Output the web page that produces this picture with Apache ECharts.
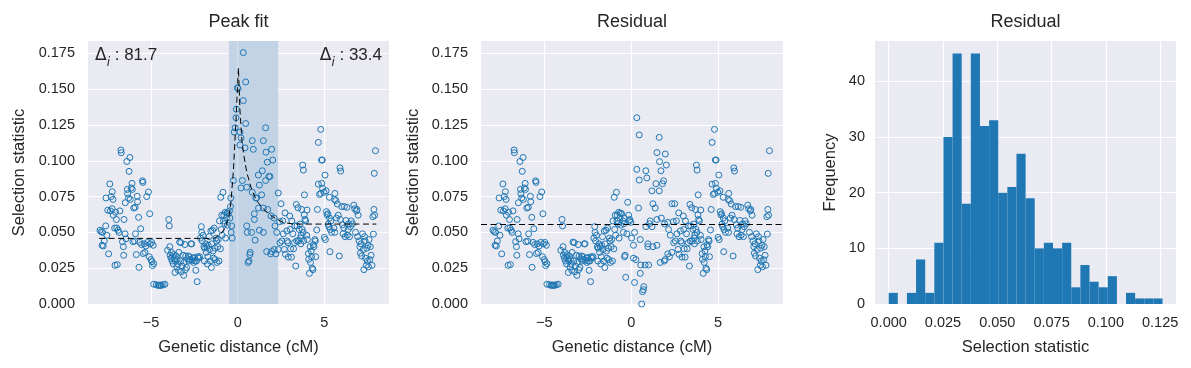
<!DOCTYPE html>
<html>
<head>
<meta charset="utf-8">
<script src="https://cdn.jsdelivr.net/npm/echarts@6/dist/echarts.min.js"></script>
<style>
html,body{margin:0;padding:0;background:#ffffff;}
#chart{width:1191px;height:368px;}
</style>
</head>
<body>
<div id="chart"></div>
<script>
// ---------------- data ----------------
// points left of the fitted peak (identical in both panels)
const leftX = [-7.95,-7.88,-7.80,-7.83,-7.76,-7.70,-7.62,-7.60,-7.55,-7.50,-7.45,-7.38,-7.35,-7.30,-7.25,-7.24,-7.20,-7.18,-7.10,-7.08,
 -7.05,-7.00,-6.98,-6.95,-6.90,-6.85,-6.80,-6.74,-6.72,-6.65,-6.60,-6.58,-6.56,-6.50,-6.49,-6.45,-6.40,-6.37,-6.35,-6.30,
 -6.27,-6.22,-6.20,-6.15,-6.10,-6.08,-6.05,-6.00,-5.95,-5.92,-5.90,-5.85,-5.80,-5.78,-5.72,-5.70,-5.65,-5.60,-5.55,-5.50,
 -5.47,-5.45,-5.40,-5.35,-5.30,-5.25,-5.20,-5.15,-5.10,-5.08,-5.05,-5.00,-4.97,-4.95,-4.92,-4.88,-4.85,-4.85,-4.70,-4.60,
 -4.55,-4.50,-4.45,-4.40,-4.30,-4.20,-4.05,-3.98,-3.95,-3.92,-3.90,-3.85,-3.82,-3.78,-3.75,-3.72,-3.70,-3.65,-3.62,-3.60,
 -3.55,-3.52,-3.50,-3.45,-3.42,-3.40,-3.35,-3.30,-3.28,-3.25,-3.20,-3.15,-3.12,-3.10,-3.05,-3.02,-3.00,-2.95,-2.90,-2.85,
 -2.82,-2.78,-2.75,-2.70,-2.66,-2.62,-2.58,-2.55,-2.50,-2.46,-2.42,-2.38,-2.34,-2.30,-2.25,-2.20,-2.15,-2.10,-2.08,-2.05,
 -2.00,-1.95,-1.92,-1.90,-1.85,-1.82,-1.78,-1.75,-1.72,-1.70,-1.65,-1.62,-1.58,-1.55,-1.52,-1.50,-1.45,-1.42,-1.40,-1.36,
 -1.32,-1.30,-1.25,-1.22,-1.20,-1.15,-1.12,-1.08,-1.05,-1.00,-0.98,-0.95,-0.92,-0.90,-0.85,-0.82,-0.80,-0.75,-0.72,-0.70,
 -0.65,-0.62,-0.60,-0.55];
const leftY = [0.0515,0.0505,0.0500,0.0410,0.0405,0.0440,0.0545,0.0740,0.0480,0.0655,0.0350,0.0838,0.0650,0.0750,0.0665,0.0784,0.0730,0.0620,0.0530,0.0270,
 0.0640,0.0590,0.0530,0.0275,0.0515,0.0500,0.0650,0.1075,0.1056,0.0435,0.0400,0.0340,0.0590,0.0490,0.0707,0.0455,0.0995,0.0800,0.0770,0.0740,
 0.0926,0.1023,0.0730,0.0810,0.0842,0.0800,0.0435,0.0670,0.0439,0.0675,0.0490,0.0345,0.0752,0.0714,0.0605,0.0256,0.0430,0.0525,0.0415,0.0860,
 0.0849,0.0352,0.0420,0.0360,0.0405,0.0750,0.0430,0.0782,0.0330,0.0630,0.0420,0.0310,0.0430,0.0295,0.0268,0.0410,0.0282,0.0138,0.0135,0.0130,
 0.0132,0.0130,0.0132,0.0130,0.0135,0.0138,0.0375,0.0590,0.0545,0.0400,0.0340,0.0320,0.0360,0.0300,0.0330,0.0280,0.0345,0.0315,0.0220,0.0300,
 0.0335,0.0260,0.0310,0.0280,0.0235,0.0360,0.0432,0.0300,0.0428,0.0225,0.0265,0.0340,0.0200,0.0290,0.0415,0.0240,0.0335,0.0255,0.0315,0.0335,
 0.0300,0.0330,0.0310,0.0420,0.0420,0.0305,0.0320,0.0290,0.0325,0.0300,0.0235,0.0300,0.0156,0.0330,0.0320,0.0330,0.0460,0.0540,0.0500,0.0440,
 0.0480,0.0400,0.0300,0.0390,0.0420,0.0360,0.0400,0.0280,0.0330,0.0410,0.0470,0.0380,0.0300,0.0510,0.0255,0.0420,0.0515,0.0370,0.0320,0.0530,
 0.0390,0.0310,0.0460,0.0440,0.0290,0.0400,0.0450,0.0300,0.0580,0.0385,0.0745,0.0520,0.0620,0.0480,0.0780,0.0580,0.0620,0.0560,0.0640,0.0460,
 0.0600,0.0635,0.0550,0.0630];

// points under the fitted peak: raw value (peakY) and residual (peakR)
const peakX = [-0.48,-0.45,-0.42,-0.40,-0.38,-0.35,-0.32,-0.25,-0.20,-0.15,-0.10,-0.08,-0.02,0.02,0.13,0.13,0.19,0.19,0.27,0.32,
 0.32,0.42,0.46,0.46,0.52,0.52,0.60,0.65,0.70,0.72,0.55,0.80,0.84,0.84,0.90,0.96,0.96,1.00,1.05,1.09,
 1.19,1.20,1.25,1.25,1.38,1.42,1.48,1.48,1.48,1.61,1.61,1.63,1.67,1.71,1.73,1.80,1.86,1.90,1.92,1.96,
 1.96,2.02,2.10,2.10,2.15,2.20,2.25,2.34,2.34];
const peakY = [0.0650,0.0600,0.0680,0.0740,0.0500,0.0545,0.0460,0.0862,0.1200,0.1230,0.1300,0.1360,0.1510,0.1505,0.1200,0.1110,0.1160,0.0810,0.0862,0.1755,
 0.1420,0.1090,0.1550,0.1260,0.0815,0.0545,0.0290,0.0300,0.0345,0.0360,0.0500,0.0500,0.1140,0.0780,0.1080,0.0630,0.0590,0.0446,0.0740,0.0740,
 0.0900,0.0670,0.0830,0.0515,0.0762,0.0930,0.0670,0.1140,0.0500,0.1230,0.0862,0.1060,0.0366,0.0990,0.0660,0.0890,0.0890,0.0350,0.0615,0.1080,
 0.0366,0.1005,0.0600,0.0380,0.0545,0.0350,0.0500,0.0775,0.0380];
const peakR = [0.0580,0.0500,0.0560,0.0600,0.0330,0.0340,0.0186,0.0490,0.0710,0.0620,0.0580,0.0590,0.0570,0.0460,0.0410,0.0320,0.0500,0.0150,0.0310,0.1300,
 0.0940,0.0670,0.1180,0.0865,0.0450,0.0214,0.0000,0.0086,0.0100,0.0121,0.0272,0.0272,0.0930,0.0540,0.0880,0.0420,0.0400,0.0272,0.0560,0.0580,
 0.0790,0.0540,0.0700,0.0400,0.0670,0.0840,0.0590,0.1057,0.0410,0.1163,0.0790,0.0994,0.0290,0.0930,0.0600,0.0840,0.0860,0.0300,0.0560,0.1047,
 0.0310,0.0970,0.0570,0.0350,0.0520,0.0330,0.0480,0.0700,0.0360];

// points right of the fitted peak (identical in both panels)
const rightX = [2.42,2.44,2.50,2.54,2.60,2.63,2.69,2.73,2.75,2.83,2.85,2.90,2.92,3.00,3.02,3.05,3.10,3.12,3.18,3.22,
 3.28,3.30,3.35,3.38,3.40,3.42,3.48,3.50,3.55,3.60,3.62,3.64,3.66,3.69,3.72,3.75,3.78,3.79,3.80,3.84,
 3.85,3.88,3.92,3.98,4.00,4.02,4.08,4.10,4.14,4.18,4.20,4.24,4.26,4.30,4.34,4.36,4.40,4.45,4.48,4.50,
 4.56,4.60,4.65,4.65,4.72,4.79,4.79,4.84,4.88,4.85,4.90,4.98,5.00,5.04,5.06,5.10,5.12,5.16,5.20,5.22,
 5.26,5.29,5.30,5.32,5.34,5.38,5.42,5.55,5.58,5.60,5.61,5.66,5.70,5.75,5.80,5.86,5.90,5.92,5.94,6.00,
 6.05,6.08,6.12,6.15,6.20,6.25,6.30,6.32,6.38,6.40,6.45,6.50,6.55,6.62,6.70,6.75,6.80,6.85,6.88,6.92,
 6.95,7.00,7.05,7.08,7.12,7.15,7.20,7.25,7.28,7.32,7.35,7.38,7.42,7.45,7.48,7.52,7.55,7.58,7.62,7.65,
 7.70,7.75,7.80,7.83,7.86,7.88,7.90,7.95];
const rightY = [0.0575,0.0428,0.0700,0.0440,0.0580,0.0490,0.0381,0.0636,0.0347,0.0510,0.0440,0.0428,0.0327,0.0614,0.0520,0.0385,0.0327,0.0580,0.0490,0.0385,
 0.0428,0.0545,0.0265,0.0695,0.0440,0.0545,0.0672,0.0440,0.0520,0.0558,0.0460,0.0420,0.0480,0.0660,0.0520,0.0970,0.0500,0.0935,0.0440,0.0622,
 0.0762,0.0590,0.0580,0.0480,0.0656,0.0450,0.0352,0.0312,0.0214,0.0400,0.0290,0.0370,0.0330,0.0250,0.0240,0.0413,0.0400,0.0450,0.0440,0.0330,
 0.0517,0.0660,0.1128,0.0837,0.0765,0.1219,0.0772,0.1005,0.1005,0.0842,0.0807,0.0780,0.0465,0.0900,0.0450,0.0790,0.0645,0.0622,0.0630,0.0557,
 0.0540,0.0745,0.0600,0.0365,0.0520,0.0580,0.0500,0.0530,0.0730,0.0500,0.0772,0.0722,0.0600,0.0698,0.0620,0.0335,0.0950,0.0590,0.0928,0.0680,
 0.0553,0.0490,0.0530,0.0680,0.0470,0.0583,0.0675,0.0480,0.0520,0.0560,0.0470,0.0540,0.0580,0.0560,0.0690,0.0665,0.0500,0.0650,0.0660,0.0470,
 0.0620,0.0440,0.0400,0.0355,0.0420,0.0335,0.0490,0.0380,0.0240,0.0470,0.0440,0.0320,0.0270,0.0390,0.0300,0.0410,0.0260,0.0450,0.0310,0.0400,
 0.0340,0.0270,0.0610,0.0488,0.0660,0.0912,0.0620,0.1070];

// fitted peak curve (dashed) and residual baseline
const fitX = [-8.0,-1.4,-1.2,-0.9,-0.7,-0.5,-0.4,-0.25,-0.1,0.0,0.04,0.13,0.25,0.35,0.52,0.8,1.1,1.5,2.0,2.6,3.2,8.0];
const fitY = [0.0458,0.0458,0.047,0.050,0.054,0.062,0.070,0.093,0.128,0.155,0.165,0.135,0.113,0.104,0.092,0.080,0.072,0.066,0.061,0.057,0.0558,0.0558];
const residLevel = [0.0558];
const peakBand = [-0.5, 2.33];
const deltaLabels = ['81.7', '33.4'];

// histogram of residuals
const histCounts = [2,0,2,8,2,11,30,45,18,45,32,33,20,21,27,19,10,11,10,11,3,7,4,3,5,0,2,1,1,1];
const histRange = [0, 0.1261];

const titles = ['Peak fit', 'Residual', 'Residual'];
const xNames = ['Genetic distance (cM)', 'Genetic distance (cM)', 'Selection statistic'];
const yNames = ['Selection statistic', 'Selection statistic', 'Frequency'];

// ---------------- build ----------------
const pairs = (xs, ys) => xs.map((x, i) => [x, ys[i]]);
const panel1 = pairs(leftX, leftY).concat(pairs(peakX, peakY), pairs(rightX, rightY));
const panel2 = pairs(leftX, leftY).concat(pairs(peakX, peakR), pairs(rightX, rightY));
const binW = (histRange[1] - histRange[0]) / histCounts.length;
const histData = histCounts.map((c, i) => [histRange[0] + i * binW, histRange[0] + (i + 1) * binW, c]);

const FONT = 'Liberation Sans, Arial, sans-serif';
const TXT = '#262626';
const BLUE = '#1f77b4';
const BG = '#eaeaf2';

const grids = [
  {left: 88, top: 41, width: 301, height: 263},
  {left: 481, top: 41, width: 302, height: 263},
  {left: 875, top: 41, width: 301, height: 263}
];
grids.forEach(g => { g.show = true; g.backgroundColor = BG; g.borderWidth = 0; });

const minus = v => (v < 0 ? '\u2212' + Math.abs(v) : String(v));

function xAxisScatter(gi) {
  return {
    type: 'value', gridIndex: gi, min: -8.64, max: 8.73, minInterval: 5, maxInterval: 5, splitNumber: 3,
    axisLine: {show: false}, axisTick: {show: false},
    axisLabel: {color: TXT, fontFamily: FONT, fontSize: 14.5, margin: 11, showMinLabel: false, showMaxLabel: false,
      formatter: minus},
    splitLine: {show: true, showMinLine: false, showMaxLine: false, lineStyle: {color: '#ffffff', width: 1.2}},
    name: xNames[gi], nameLocation: 'middle', nameGap: 35,
    nameTextStyle: {color: TXT, fontFamily: FONT, fontSize: 16.5}
  };
}
function yAxisScatter(gi, gap) {
  return {
    type: 'value', gridIndex: gi, min: 0, max: 0.1836, interval: 0.025,
    axisLine: {show: false}, axisTick: {show: false},
    axisLabel: {color: TXT, fontFamily: FONT, fontSize: 14.5, margin: 13, showMaxLabel: false,
      formatter: v => v.toFixed(3)},
    splitLine: {show: true, showMinLine: false, showMaxLine: false, lineStyle: {color: '#ffffff', width: 1.2}},
    name: yNames[gi], nameLocation: 'middle', nameGap: gap,
    nameTextStyle: {color: TXT, fontFamily: FONT, fontSize: 16.5}
  };
}

const scatterStyle = {
  type: 'scatter', symbol: 'circle', symbolSize: 6, z: 5,
  itemStyle: {color: 'rgba(0,0,0,0)', borderColor: BLUE, borderWidth: 1, opacity: 1},
  emphasis: {disabled: true}, silent: true
};

const option = {
  animation: false,
  backgroundColor: '#ffffff',
  grid: grids,
  xAxis: [
    xAxisScatter(0),
    xAxisScatter(1),
    {
      type: 'value', gridIndex: 2, min: -0.0063, max: 0.1323, minInterval: 0.025, maxInterval: 0.025, splitNumber: 5,
      axisLine: {show: false}, axisTick: {show: false},
      axisLabel: {color: TXT, fontFamily: FONT, fontSize: 14.5, margin: 11, showMinLabel: false, showMaxLabel: false,
        formatter: v => v.toFixed(3)},
      splitLine: {show: true, showMinLine: false, showMaxLine: false, lineStyle: {color: '#ffffff', width: 1.2}},
      name: xNames[2], nameLocation: 'middle', nameGap: 35,
      nameTextStyle: {color: TXT, fontFamily: FONT, fontSize: 16.5}
    }
  ],
  yAxis: [
    yAxisScatter(0, 60),
    yAxisScatter(1, 59),
    {
      type: 'value', gridIndex: 2, min: 0, max: 47.25, interval: 10,
      axisLine: {show: false}, axisTick: {show: false},
      axisLabel: {color: TXT, fontFamily: FONT, fontSize: 14.5, margin: 10, showMaxLabel: false},
      splitLine: {show: true, showMinLine: false, showMaxLine: false, lineStyle: {color: '#ffffff', width: 1.2}},
      name: yNames[2], nameLocation: 'middle', nameGap: 36,
      nameTextStyle: {color: TXT, fontFamily: FONT, fontSize: 16.5}
    }
  ],
  series: [
    // shaded peak region
    {
      type: 'line', xAxisIndex: 0, yAxisIndex: 0, data: [], z: 1, silent: true,
      markArea: {silent: true, itemStyle: {color: '#c2d3e5'}, data: [[{xAxis: peakBand[0]}, {xAxis: peakBand[1]}]]},
      markLine: {silent: true, symbol: 'none', label: {show: false}, precision: 6,
        lineStyle: {color: '#d3e0ee', type: 'solid', width: 1.2}, data: [{xAxis: 0}]}
    },
    Object.assign({}, scatterStyle, {xAxisIndex: 0, yAxisIndex: 0, data: panel1}),
    {
      type: 'line', xAxisIndex: 0, yAxisIndex: 0, data: pairs(fitX, fitY), symbol: 'none', z: 6, silent: true,
      lineStyle: {color: '#000000', width: 1, type: [6, 3.5]}
    },
    Object.assign({}, scatterStyle, {xAxisIndex: 1, yAxisIndex: 1, data: panel2,
      markLine: {silent: true, symbol: 'none', label: {show: false}, precision: 6, z: 6,
        lineStyle: {color: '#000000', type: [6, 3.5], width: 1}, data: [{yAxis: residLevel[0]}]}}),
    {
      type: 'custom', xAxisIndex: 2, yAxisIndex: 2, data: histData, silent: true,
      encode: {x: [0, 1], y: 2},
      renderItem: function (params, api) {
        const p0 = api.coord([api.value(0), api.value(2)]);
        const p1 = api.coord([api.value(1), 0]);
        return {type: 'rect', shape: {x: p0[0], y: p0[1], width: p1[0] - p0[0], height: p1[1] - p0[1]},
          style: {fill: BLUE}};
      }
    }
  ],
  graphic: [
    {type: 'text', x: 238.5, y: 22, style: {text: titles[0], fill: TXT, font: '18px ' + FONT, textAlign: 'center', textVerticalAlign: 'middle'}},
    {type: 'text', x: 632, y: 22, style: {text: titles[1], fill: TXT, font: '18px ' + FONT, textAlign: 'center', textVerticalAlign: 'middle'}},
    {type: 'text', x: 1025.5, y: 22, style: {text: titles[2], fill: TXT, font: '18px ' + FONT, textAlign: 'center', textVerticalAlign: 'middle'}},
    {type: 'text', x: 95, y: 47, z: 10, style: {
      text: '{d|\u0394}{s|i}{n| : ' + deltaLabels[0] + '}', fill: TXT, textAlign: 'left',
      rich: {
        d: {fontFamily: 'DejaVu Sans', fontSize: 17, lineHeight: 22, verticalAlign: 'top', fill: TXT},
        s: {fontFamily: 'DejaVu Sans', fontStyle: 'italic', fontSize: 12, lineHeight: 12, verticalAlign: 'bottom', fill: TXT},
        n: {fontFamily: FONT, fontSize: 17, lineHeight: 22, verticalAlign: 'top', fill: TXT}
      }}},
    {type: 'text', x: 382, y: 47, z: 10, style: {
      text: '{d|\u0394}{s|i}{n| : ' + deltaLabels[1] + '}', fill: TXT, textAlign: 'right',
      rich: {
        d: {fontFamily: 'DejaVu Sans', fontSize: 17, lineHeight: 22, verticalAlign: 'top', fill: TXT},
        s: {fontFamily: 'DejaVu Sans', fontStyle: 'italic', fontSize: 12, lineHeight: 12, verticalAlign: 'bottom', fill: TXT},
        n: {fontFamily: FONT, fontSize: 17, lineHeight: 22, verticalAlign: 'top', fill: TXT}
      }}}
  ]
};

const chart = echarts.init(document.getElementById('chart'), null, {renderer: 'canvas'});
chart.setOption(option);
</script>
</body>
</html>
